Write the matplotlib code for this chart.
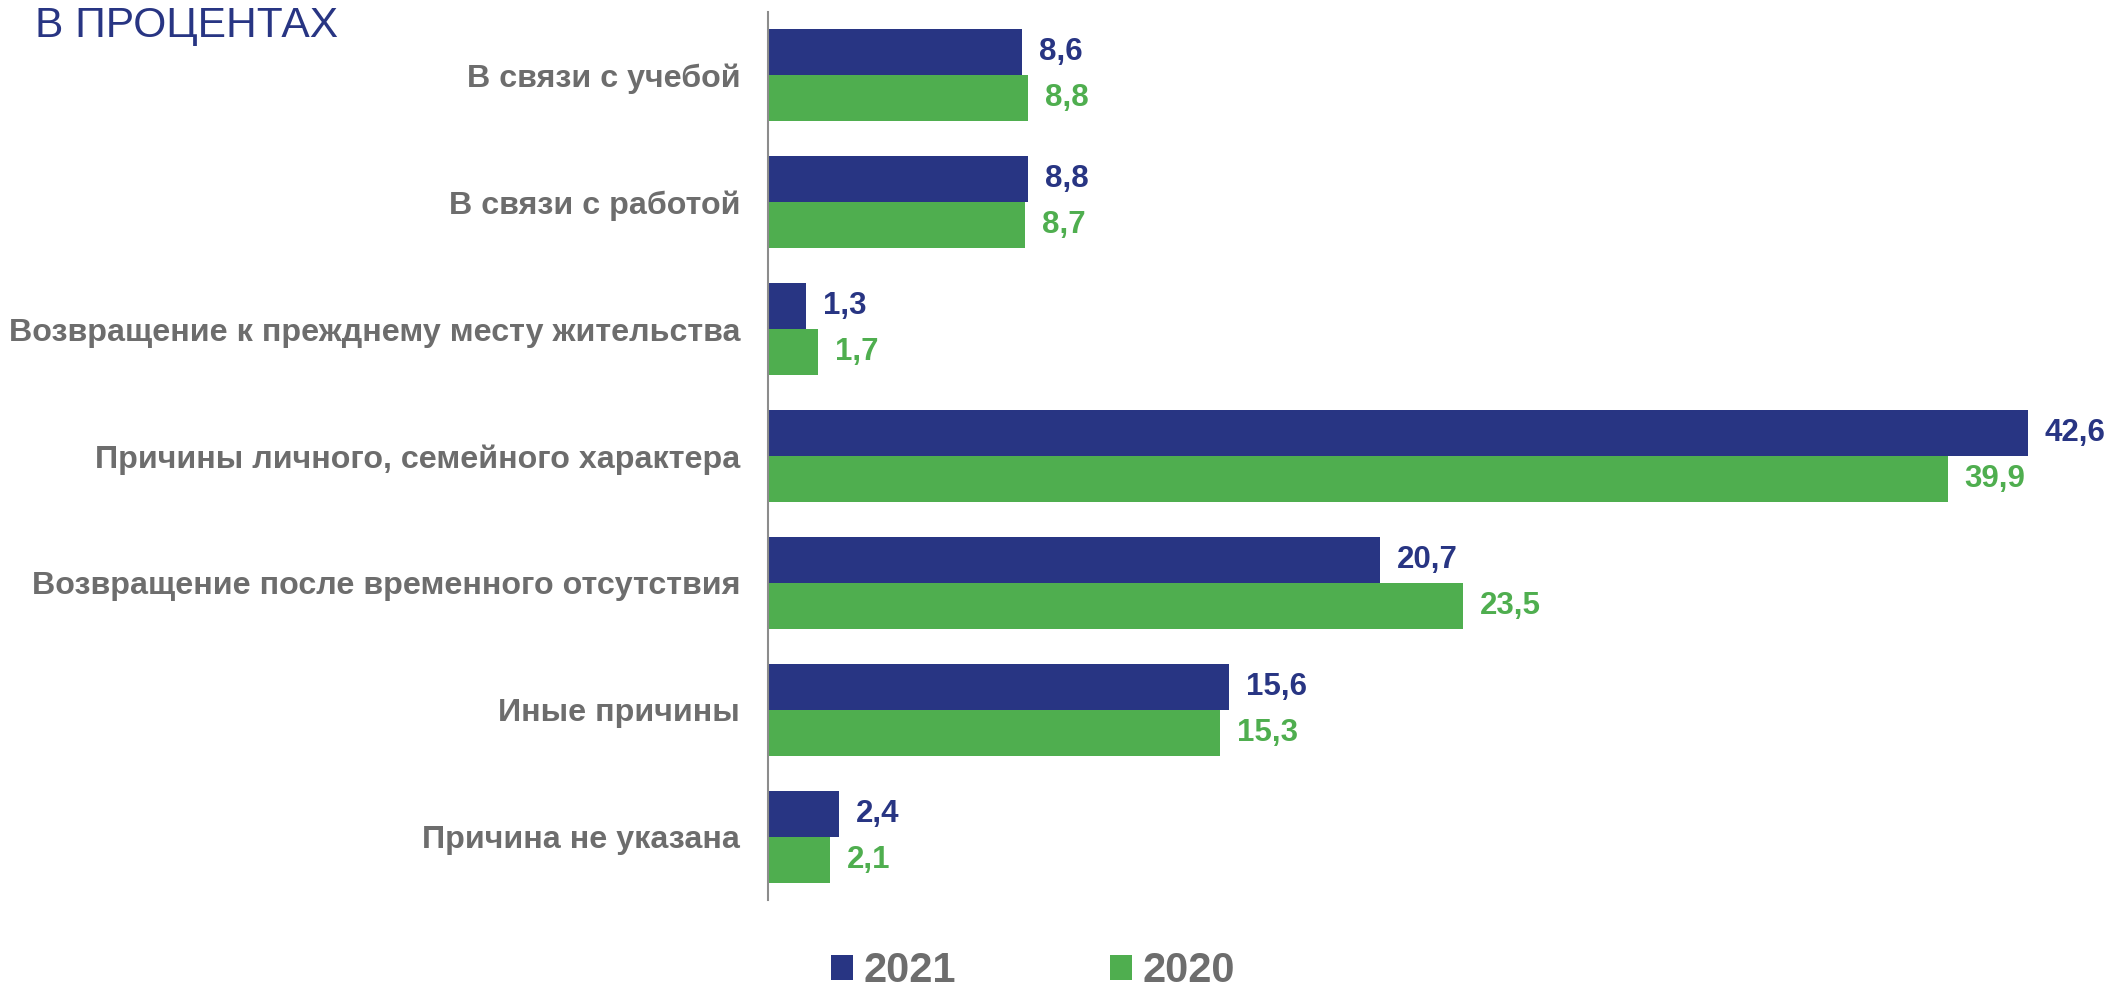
import matplotlib
matplotlib.use("Agg")
import matplotlib.pyplot as plt
import numpy as np

categories = [
    "В связи с учебой",
    "В связи с работой",
    "Возвращение к прежднему месту жительства",
    "Причины личного, семейного характера",
    "Возвращение после временного отсутствия",
    "Иные причины",
    "Причина не указана",
]
values_2021 = [8.6, 8.8, 1.3, 42.6, 20.7, 15.6, 2.4]
values_2020 = [8.8, 8.7, 1.7, 39.9, 23.5, 15.3, 2.1]
series_labels = ["2021", "2020"]
title_text = "В ПРОЦЕНТАХ"

NAVY = "#283583"
GREEN = "#4FAE4F"
GRAY = "#6D6D6D"

plt.rcParams['font.family'] = ['Liberation Sans', 'DejaVu Sans']

fig = plt.figure(figsize=(21.16, 9.82), dpi=100)
ax = fig.add_axes([768/2116, 82/982, 1 - 768/2116, (900-12)/982])

y = np.arange(len(categories))
h = 0.363
b1 = ax.barh(y - h/2, values_2021, height=h, color=NAVY, label=series_labels[0])
b2 = ax.barh(y + h/2, values_2020, height=h, color=GREEN, label=series_labels[1])

ax.set_ylim(len(categories) - 0.5, -0.5)
ax.set_xlim(0, 1348/29.57)

for bars, vals, col in ((b1, values_2021, NAVY), (b2, values_2020, GREEN)):
    for rect, v in zip(bars, vals):
        ax.annotate(f"{v:.1f}".replace(".", ","),
                    xy=(rect.get_width(), rect.get_y() + rect.get_height()/2),
                    xytext=(12, 0), textcoords="offset points",
                    ha="left", va="center", fontsize=22.5, fontweight="bold", color=col)

ax.set_yticks(y)
ax.set_yticklabels(categories, fontsize=23.2, fontweight="bold", color=GRAY)
ax.tick_params(axis="y", length=0, pad=20)
ax.set_xticks([])
for s in ("top", "right", "bottom"):
    ax.spines[s].set_visible(False)
ax.spines["left"].set_color("#8C8C8C")
ax.spines["left"].set_linewidth(1.5)

fig.text(35/2116, 1 - 6/982, title_text, fontsize=30.6, color=NAVY,
         ha="left", va="top")

leg = fig.legend(handles=[b1, b2], labels=series_labels, loc="center left",
                 bbox_to_anchor=(831/2116, 11/982), ncol=2, frameon=False,
                 prop={"size": 30, "weight": "bold"}, handlelength=0.53,
                 handleheight=0.53, handletextpad=0.25, columnspacing=3.7,
                 borderpad=0, borderaxespad=0)
for t in leg.get_texts():
    t.set_color(GRAY)

fig.savefig("out.png", dpi=100)
